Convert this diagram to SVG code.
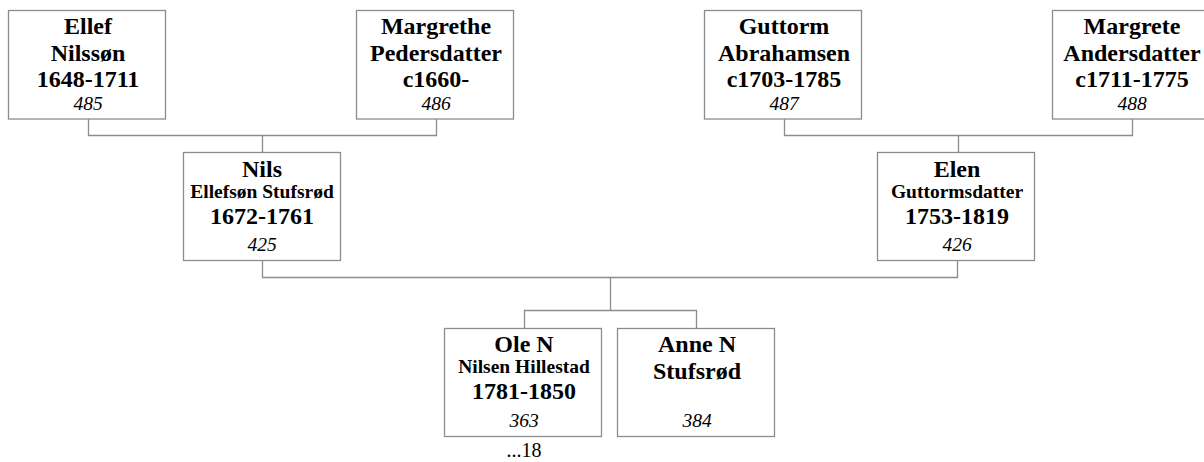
<svg xmlns="http://www.w3.org/2000/svg" width="1204" height="462" viewBox="0 0 1204 462">
<style>
.box{fill:#fff;stroke:#8c8c8c;stroke-width:1.3}
.ln{fill:none;stroke:#8c8c8c;stroke-width:1.3}
text{font-family:"Liberation Serif","Times New Roman",serif;fill:#000;text-anchor:middle}
.b{font-weight:bold;font-size:24px}
.s{font-weight:bold;font-size:19.5px}
.i{font-style:italic;font-size:19.5px}
.r{font-size:20px}
</style>
<rect width="1204" height="462" fill="#fff"/>
<g id="connectors">
<path class="ln" d="M88.5 119 V135.5 H436.5 V119 M262.5 135.5 V152.5"/>
<path class="ln" d="M784.5 119 V135.5 H1132.5 V119 M958.5 135.5 V152.5"/>
<path class="ln" d="M262.5 260.5 V277.5 H957.5 V260.5 M610.5 277.5 V310.5 M524.5 328.5 V310.5 H696.5 V328.5"/>
</g>
<g id="n485">
<rect class="box" x="8.5" y="10.5" width="157" height="108.5"/>
<text class="b" x="88" y="34">Ellef</text>
<text class="b" x="88" y="61">Nilssøn</text>
<text class="b" x="88" y="87">1648-1711</text>
<text class="i" x="88" y="110">485</text>
</g>
<g id="n486">
<rect class="box" x="356.5" y="10.5" width="157" height="108.5"/>
<text class="b" x="436" y="34">Margrethe</text>
<text class="b" x="436" y="61">Pedersdatter</text>
<text class="b" x="436" y="87">c1660-</text>
<text class="i" x="436" y="110">486</text>
</g>
<g id="n487">
<rect class="box" x="704.5" y="10.5" width="157" height="108.5"/>
<text class="b" x="784" y="34">Guttorm</text>
<text class="b" x="784" y="61">Abrahamsen</text>
<text class="b" x="784" y="87">c1703-1785</text>
<text class="i" x="784" y="110">487</text>
</g>
<g id="n488">
<rect class="box" x="1052.5" y="10.5" width="157" height="108.5"/>
<text class="b" x="1132" y="34">Margrete</text>
<text class="b" x="1132" y="61">Andersdatter</text>
<text class="b" x="1132" y="87">c1711-1775</text>
<text class="i" x="1132" y="110">488</text>
</g>
<g id="n425">
<rect class="box" x="183.5" y="152.5" width="157" height="108"/>
<text class="b" x="262" y="177">Nils</text>
<text class="s" x="262" y="197.5">Ellefsøn Stufsrød</text>
<text class="b" x="262" y="223.5">1672-1761</text>
<text class="i" x="262" y="251">425</text>
</g>
<g id="n426">
<rect class="box" x="877.5" y="152.5" width="157" height="108"/>
<text class="b" x="957" y="177">Elen</text>
<text class="s" x="957" y="197.5">Guttormsdatter</text>
<text class="b" x="957" y="223.5">1753-1819</text>
<text class="i" x="957" y="251">426</text>
</g>
<g id="n363">
<rect class="box" x="444.5" y="328.5" width="157" height="108"/>
<text class="b" x="524" y="352">Ole N</text>
<text class="s" x="524" y="372.5">Nilsen Hillestad</text>
<text class="b" x="524" y="398.5">1781-1850</text>
<text class="i" x="524" y="427">363</text>
<text class="r" x="524" y="456.5">...18</text>
</g>
<g id="n384">
<rect class="box" x="617.5" y="328.5" width="157" height="108"/>
<text class="b" x="697" y="352">Anne N</text>
<text class="b" x="697" y="378.5">Stufsrød</text>
<text class="i" x="697" y="427">384</text>
</g>
</svg>
